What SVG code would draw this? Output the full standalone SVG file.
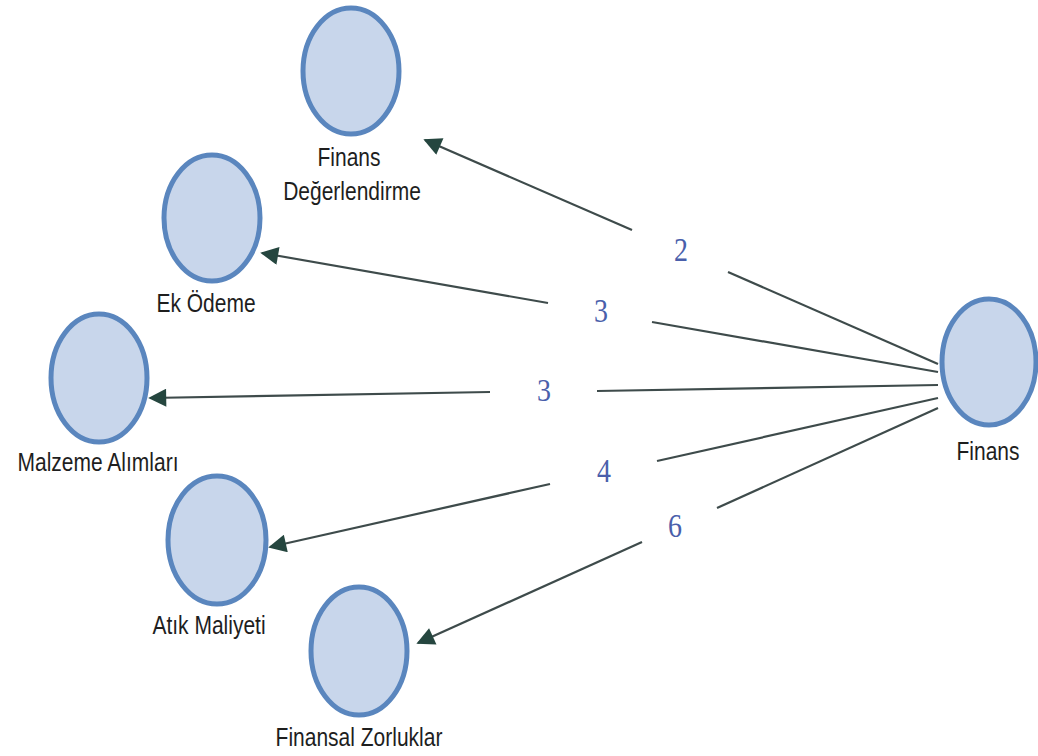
<svg xmlns="http://www.w3.org/2000/svg" width="1038" height="756" viewBox="0 0 1038 756">
<defs>
<style>
.node ellipse{fill:#c8d6eb;stroke:#5a86be;stroke-width:5}
.lbl{font-family:"Liberation Sans",Arial,sans-serif;font-size:21px;fill:#1e1e1e;text-anchor:middle}
.num{font-family:"Liberation Serif","Times New Roman",serif;font-size:28px;fill:#4a5fab;text-anchor:middle}
.edge{stroke:#3e4b4b;stroke-width:2.2;fill:none}
</style>
<marker id="arr" viewBox="0 0 10 10" refX="9" refY="5" markerUnits="userSpaceOnUse" markerWidth="22" markerHeight="18" orient="auto">
<path d="M0,0 L10,5 L0,10 z" fill="#25463f"/>
</marker>
</defs>
<rect width="1038" height="756" fill="#ffffff"/>
<g id="connectors">
<line class="edge" x1="632" y1="230" x2="425" y2="140" marker-end="url(#arr)"/>
<line class="edge" x1="728" y1="272" x2="938" y2="364"/>
<line class="edge" x1="548" y1="303" x2="262" y2="253" marker-end="url(#arr)"/>
<line class="edge" x1="652" y1="322" x2="938" y2="372"/>
<line class="edge" x1="490" y1="392" x2="150" y2="398" marker-end="url(#arr)"/>
<line class="edge" x1="597" y1="391" x2="938" y2="385"/>
<line class="edge" x1="550" y1="484" x2="270" y2="547" marker-end="url(#arr)"/>
<line class="edge" x1="657" y1="461" x2="938" y2="398"/>
<line class="edge" x1="642" y1="542" x2="418" y2="643" marker-end="url(#arr)"/>
<line class="edge" x1="717" y1="508" x2="938" y2="408"/>
<text class="num" transform="translate(681,261) scale(1,1.18)">2</text>
<text class="num" transform="translate(601,322) scale(1,1.18)">3</text>
<text class="num" transform="translate(544,401) scale(1,1.1)">3</text>
<text class="num" transform="translate(604,482) scale(1,1.18)">4</text>
<text class="num" transform="translate(675,537) scale(1,1.18)">6</text>
</g>
<g id="node-finans-degerlendirme" class="node">
<ellipse cx="351" cy="71" rx="48" ry="63"/>
<text class="lbl" transform="translate(349,166) scale(1,1.2)">Finans</text>
<text class="lbl" transform="translate(352,200) scale(1,1.2)">Değerlendirme</text>
</g>
<g id="node-ek-odeme" class="node">
<ellipse cx="212" cy="218" rx="48" ry="63"/>
<text class="lbl" transform="translate(206,312) scale(1,1.2)">Ek Ödeme</text>
</g>
<g id="node-malzeme" class="node">
<ellipse cx="99" cy="378" rx="48" ry="64"/>
<text class="lbl" transform="translate(98,471) scale(1,1.2)">Malzeme Alımları</text>
</g>
<g id="node-atik" class="node">
<ellipse cx="217" cy="540" rx="49" ry="64"/>
<text class="lbl" transform="translate(209,634) scale(1,1.2)">Atık Maliyeti</text>
</g>
<g id="node-finansal-zorluklar" class="node">
<ellipse cx="359" cy="651" rx="48" ry="64"/>
<text class="lbl" transform="translate(359,746) scale(1,1.2)">Finansal Zorluklar</text>
</g>
<g id="node-finans" class="node">
<ellipse cx="989" cy="362" rx="47" ry="63"/>
<text class="lbl" transform="translate(988,460) scale(1,1.2)">Finans</text>
</g>
</svg>
